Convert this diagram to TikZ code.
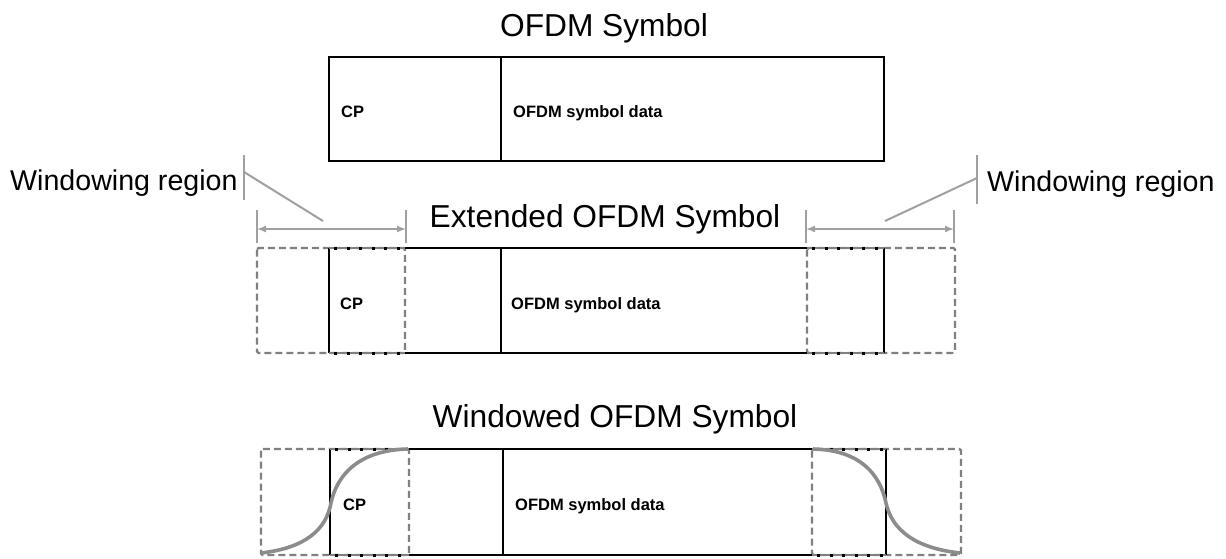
\documentclass[tikz,border=0pt]{standalone}
\usepackage{fontspec}
\setmainfont{Liberation Sans}
\usetikzlibrary{arrows.meta}
\definecolor{dgray}{RGB}{128,128,128}
\definecolor{lgray}{RGB}{160,160,160}
\definecolor{cgray}{RGB}{140,140,140}
\begin{document}
\begin{tikzpicture}[x=1pt,y=-1pt,
  title/.style={font=\fontsize{31.7}{36}\selectfont, anchor=base, inner sep=0pt},
  wlabel/.style={font=\fontsize{28.6}{34}\selectfont, inner sep=0pt, anchor=base west},
  blabel/.style={font=\bfseries\fontsize{16.5}{20}\selectfont, inner sep=0pt, anchor=base west},
  solidline/.style={draw=black, line width=2.6pt},
  dashbox/.style={draw=dgray, line width=2.2pt, dash pattern=on 7pt off 4pt, rounded corners=1.5pt},
  dotline/.style={draw=black, line width=3pt, dash pattern=on 3pt off 9.6pt, dash phase=-5pt},
  graydots/.style={draw=dgray, line width=1.8pt},
  callout/.style={draw=lgray, line width=2pt},
  dimarrow/.style={draw=lgray, line width=1.5pt, {Latex[length=9pt,width=7pt]}-{Latex[length=9pt,width=7pt]}},
  extline/.style={draw=lgray, line width=1.3pt},
  window/.style={draw=cgray, line width=3.6pt}
]
\useasboundingbox (0,0) rectangle (1226,558);

% ---------- Titles ----------
\node[title] (t1) at (604,36) {OFDM Symbol};
\node[title] (t2) at (605,227) {Extended OFDM Symbol};
\node[title] (t3) at (615,427) {Windowed OFDM Symbol};

% ---------- Top row ----------
\draw[solidline] (329,57) rectangle (884,161);
\draw[solidline] (501,57) -- (501,161);
\node[blabel] (cp1) at (341,117) {CP};
\node[blabel] (d1) at (513,117) {OFDM symbol data};

% ---------- Middle row ----------
\draw[dashbox] (257,248) rectangle (405,353);
\draw[dashbox] (807,248) rectangle (955,353);
\draw[solidline] (405,248) -- (807,248);
\draw[solidline] (405,353) -- (807,353);
\foreach \xx in {329,501,884} \draw[solidline] (\xx,248) -- (\xx,353);
\draw[graydots] (329,248) -- (405,248) (329,353) -- (405,353)
                (807,248) -- (884,248) (807,353) -- (884,353);
\draw[dotline] (329,248) -- (405,248);
\draw[dotline] (329,353) -- (405,353);
\draw[dotline] (807,248) -- (884,248);
\draw[dotline] (807,353) -- (884,353);
\node[blabel] (cp2) at (340,309) {CP};
\node[blabel] (d2) at (511,309) {OFDM symbol data};

% dimension arrows
\coordinate (la) at (257,229);
\coordinate (lb) at (406,229);
\coordinate (ra) at (806,229);
\coordinate (rb) at (954,229);
\draw[extline] (257,210) -- (257,243);
\draw[extline] (406,210) -- (406,243);
\draw[extline] (806,210) -- (806,243);
\draw[extline] (954,210) -- (954,243);
\draw[dimarrow] (la) -- (lb);
\draw[dimarrow] (ra) -- (rb);

% windowing region callouts
\node[wlabel] (wl) at (10,190) {Windowing region};
\node[wlabel] (wr) at (987,191) {Windowing region};
\coordinate (wlbar) at (244,172);
\coordinate (wltip) at (323,221);
\coordinate (wrbar) at (977,178);
\coordinate (wrtip) at (885,221);
\draw[callout] (244,155) -- (244,200);
\draw[callout] (wlbar) -- (wltip);
\draw[callout] (977,155) -- (977,204);
\draw[callout] (wrbar) -- (wrtip);

% ---------- Bottom row ----------
\draw[dashbox] (261,449) rectangle (409,555);
\draw[dashbox] (812,449) rectangle (961,555);
\draw[solidline] (409,449) -- (812,449);
\draw[solidline] (409,555) -- (812,555);
\foreach \xx in {330,503,886} \draw[solidline] (\xx,449) -- (\xx,555);
\draw[graydots] (330,449) -- (409,449) (330,555) -- (409,555)
                (812,449) -- (886,449) (812,555) -- (886,555);
\draw[dotline] (330,449) -- (409,449);
\draw[dotline] (330,555) -- (409,555);
\draw[dotline] (812,449) -- (886,449);
\draw[dotline] (812,555) -- (886,555);
\node[blabel] (cp3) at (343,510) {CP};
\node[blabel] (d3) at (515,510) {OFDM symbol data};

% window curves
\draw[window] (261,553) .. controls (305,548) and (326,530) .. (331,503)
              .. controls (337,474) and (360,450) .. (408,449);
\draw[window] (813,449) .. controls (860,450) and (880,474) .. (886,503)
              .. controls (892,530) and (915,548) .. (960,553);
\end{tikzpicture}
\end{document}
